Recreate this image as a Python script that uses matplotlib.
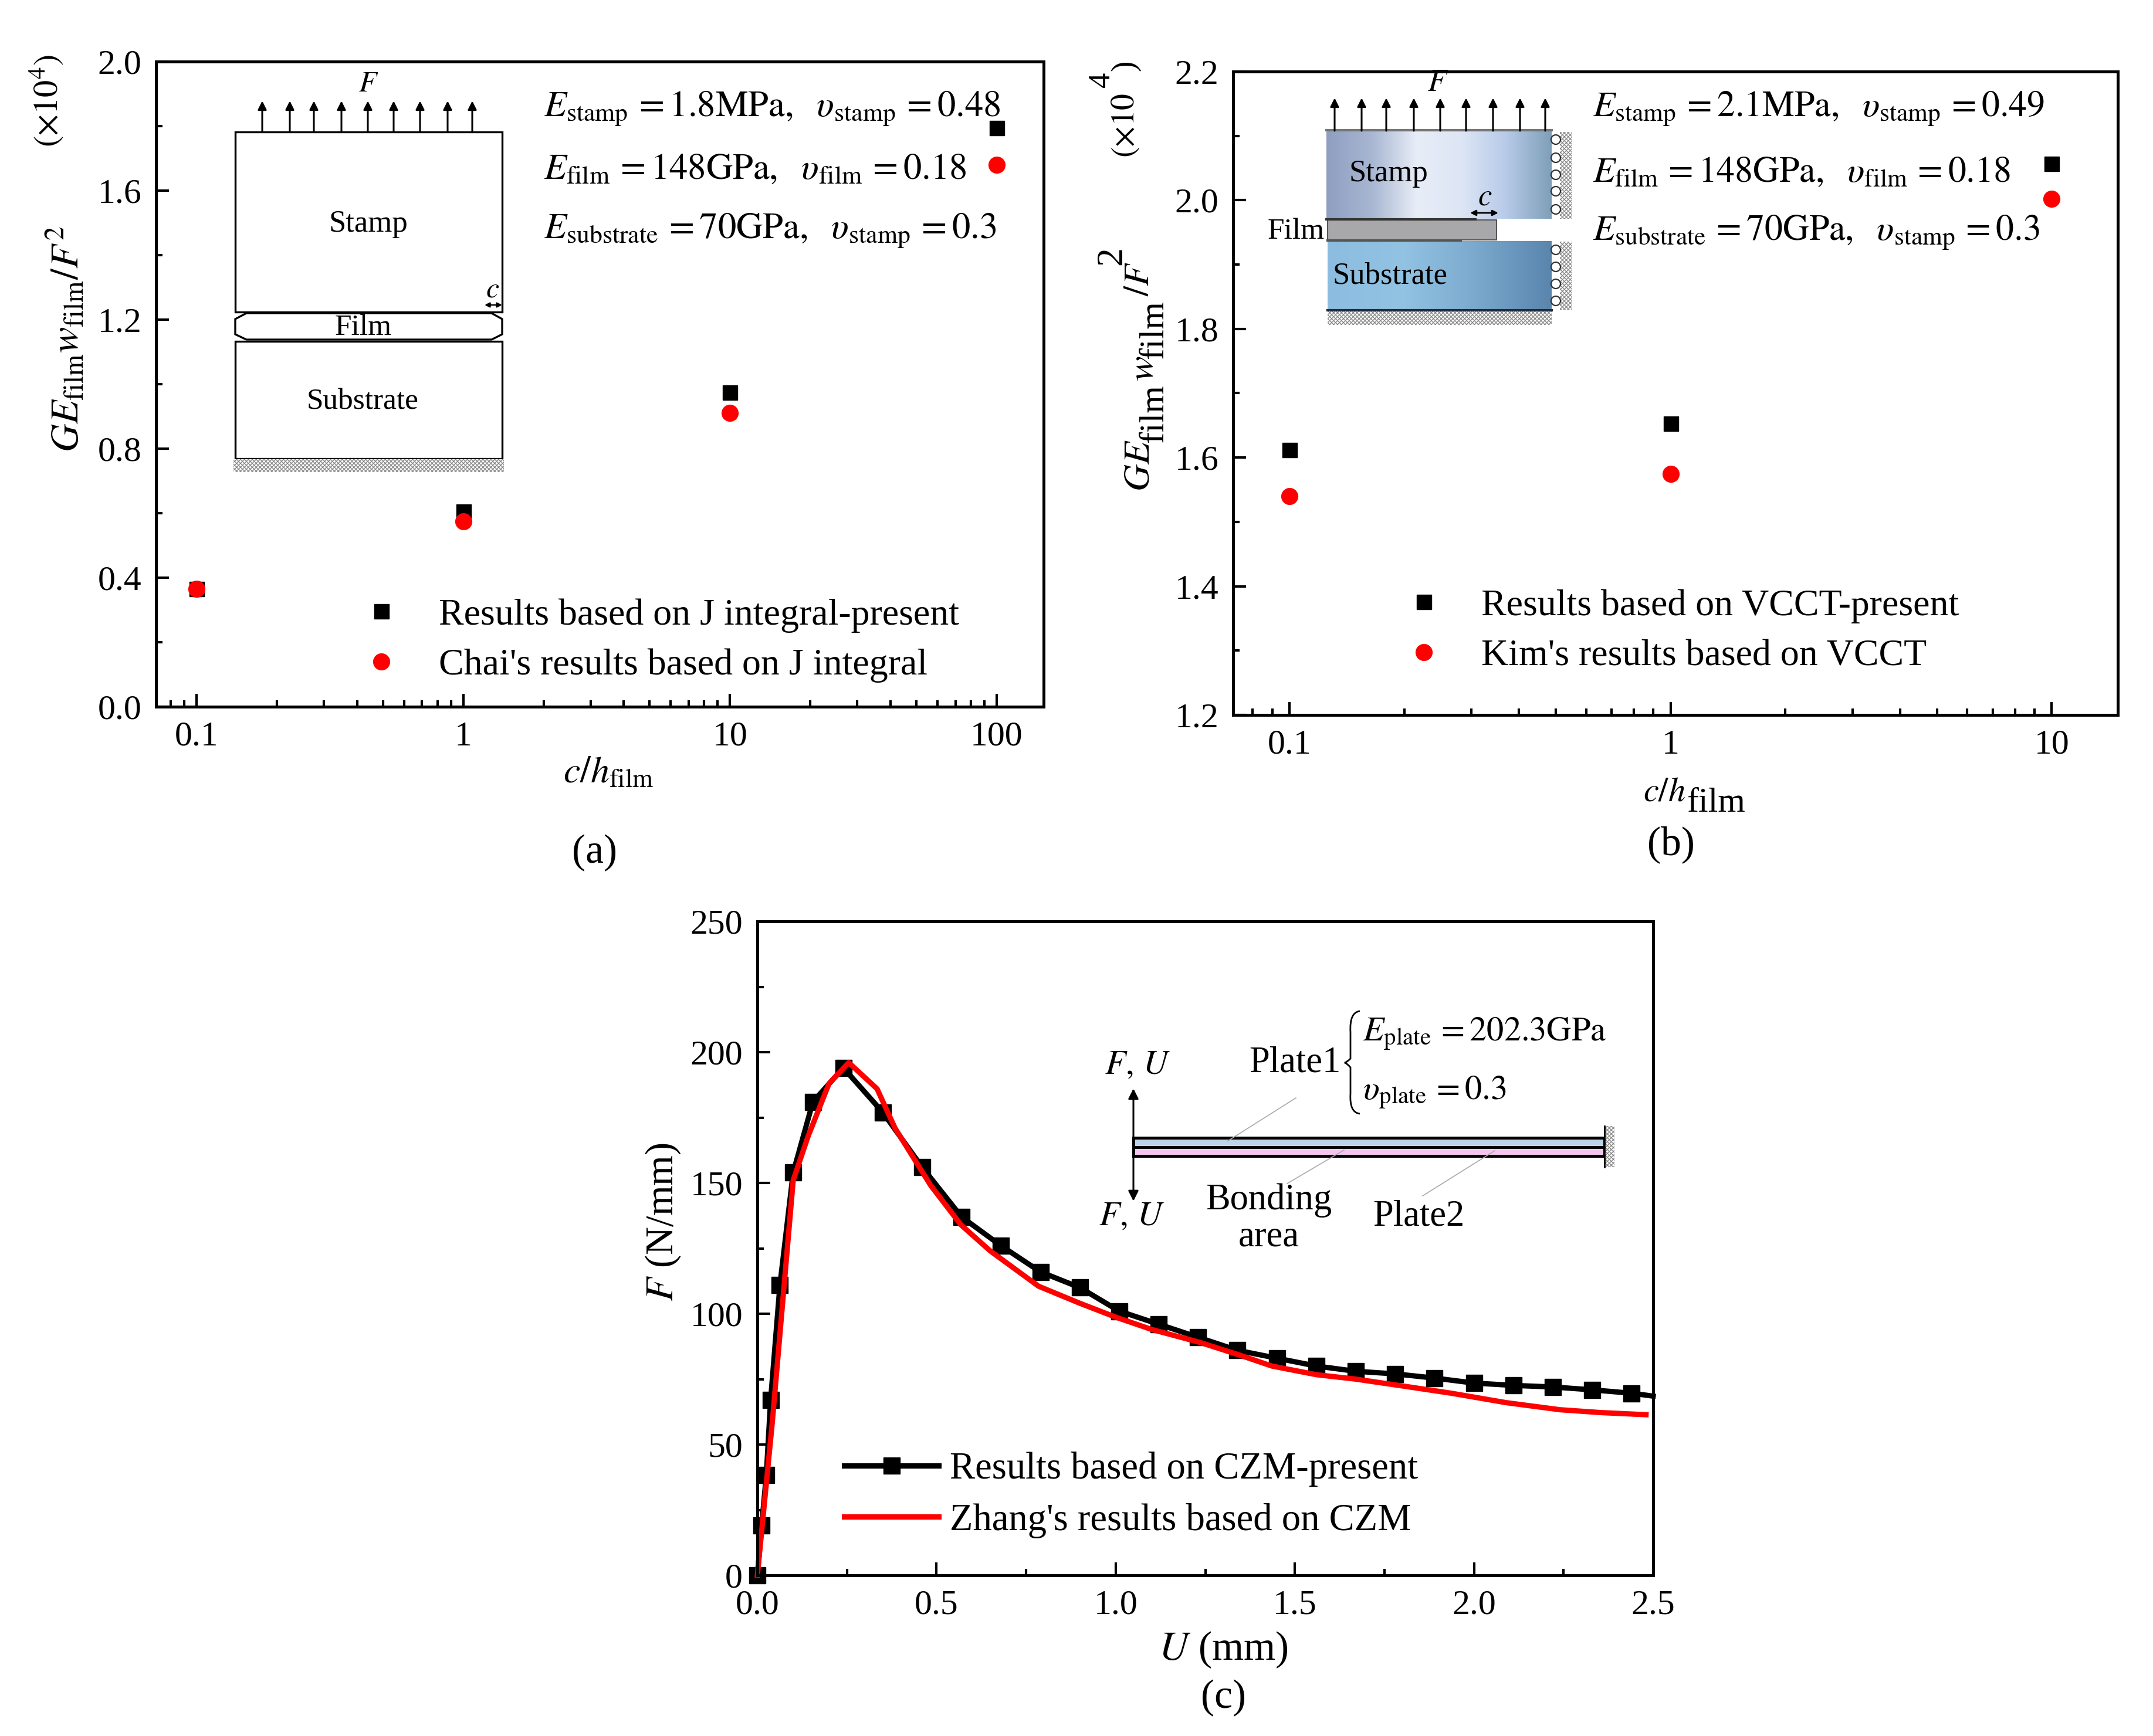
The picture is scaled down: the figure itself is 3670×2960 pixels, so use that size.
import numpy as np
import matplotlib
matplotlib.use("Agg")
import matplotlib.pyplot as plt
from matplotlib.colors import LinearSegmentedColormap
from matplotlib.patches import Rectangle, Polygon, Circle, PathPatch
from matplotlib.path import Path
from matplotlib.ticker import FixedLocator, FixedFormatter, NullFormatter

plt.rcParams["font.family"] = ["Liberation Serif", "DejaVu Serif"]
plt.rcParams["mathtext.fontset"] = "stix"
plt.rcParams["hatch.linewidth"] = 1.0

W, H = 3670, 2960

# panel a
a_x = [0.1, 1, 10, 100]
a_present = [0.365, 0.605, 0.975, 1.795]
a_chai = [0.365, 0.575, 0.91, 1.68]
a_params = [
    r"$E_{\mathrm{stamp}}\,=1.8\mathrm{MPa},\ \ \upsilon_{\mathrm{stamp}}\,=0.48$",
    r"$E_{\mathrm{film}}\,=148\mathrm{GPa},\ \ \upsilon_{\mathrm{film}}\,=0.18$",
    r"$E_{\mathrm{substrate}}\,=70\mathrm{GPa},\ \ \upsilon_{\mathrm{stamp}}\,=0.3$",
]

# panel b
b_x = [0.1, 1, 10]
b_present = [1.612, 1.653, 2.057]
b_kim = [1.54, 1.575, 2.002]
b_params = [
    r"$E_{\mathrm{stamp}}\,=2.1\mathrm{MPa},\ \ \upsilon_{\mathrm{stamp}}\,=0.49$",
    r"$E_{\mathrm{film}}\,=148\mathrm{GPa},\ \ \upsilon_{\mathrm{film}}\,=0.18$",
    r"$E_{\mathrm{substrate}}\,=70\mathrm{GPa},\ \ \upsilon_{\mathrm{stamp}}\,=0.3$",
]

# panel c
c_u = [0, 0.012, 0.025, 0.037, 0.063, 0.1, 0.155, 0.24, 0.35, 0.46, 0.57, 0.68, 0.79, 0.9, 1.01,
       1.12, 1.23, 1.34, 1.45, 1.56, 1.67, 1.78, 1.89, 2.0, 2.11, 2.22, 2.33, 2.44, 2.5]
c_f = [0, 19, 38.4, 67, 111, 154, 181, 194, 177, 156, 137, 126, 116, 110, 101,
       96, 91, 86, 83, 80, 78, 77, 75.4, 73.5, 72.6, 72, 70.9, 69.6, 68.5]
zhang_u = [0, 0.042, 0.1, 0.142, 0.2, 0.255, 0.334, 0.384, 0.484, 0.568, 0.65, 0.785, 0.9, 1.0, 1.1,
           1.236, 1.35, 1.436, 1.56, 1.67, 1.8, 1.937, 2.09, 2.24, 2.355, 2.48]
zhang_f = [0, 59, 151, 168, 188, 196, 186, 171, 149, 134, 124, 110.5, 104, 98.7, 94,
           89, 84, 80, 76.7, 75, 72.4, 69.6, 66, 63.3, 62.2, 61.4]


def px_axes(fig, left, right, top, bottom):
    return fig.add_axes([left/W, 1-bottom/H, (right-left)/W, (bottom-top)/H])


def style_axes(ax):
    for s in ax.spines.values():
        s.set_linewidth(3.6)
    ax.tick_params(which="major", direction="in", length=16, width=3.0, labelsize=43, pad=18)
    ax.tick_params(which="minor", direction="in", length=8, width=3.0)
    ax.tick_params(top=False, right=False, which="both")


def add_legend(ax, handles, labels, x, y, size, spacing):
    ax.legend(handles, labels, loc="center left", bbox_to_anchor=(x/W, 1-y/H),
              bbox_transform=ax.figure.transFigure, frameon=False, fontsize=size,
              borderpad=0, borderaxespad=0, labelspacing=spacing, handletextpad=0.28,
              handlelength=2.5, numpoints=1)


fig = plt.figure(figsize=(W/100, H/100), dpi=100)

# (a)
ax = px_axes(fig, 266, 1779, 105, 1205)
p1, = ax.plot(a_x, a_present, "s", color="black", ms=18, ls="none")
p2, = ax.plot(a_x, a_chai, "o", color="red", ms=20, ls="none")
ax.set_xscale("log")
ax.set_xlim(0.0705, 150)
ax.set_ylim(0, 2.0)
ax.xaxis.set_major_locator(FixedLocator(a_x))
ax.xaxis.set_major_formatter(FixedFormatter(["0.1", "1", "10", "100"]))
ax.xaxis.set_minor_formatter(NullFormatter())
ax.set_yticks(np.arange(0, 2.01, 0.4))
ax.set_yticklabels(["0.0", "0.4", "0.8", "1.2", "1.6", "2.0"])
ax.set_yticks(np.arange(0, 2.01, 0.2), minor=True)
style_axes(ax)
add_legend(ax, [p1, p2], ["Results based on J integral-present", "Chai's results based on J integral"],
           570, 1092, 46, 0.42)

# (b)
ax = px_axes(fig, 2102, 3610, 122, 1219)
p1, = ax.plot(b_x, b_present, "s", color="black", ms=18, ls="none")
p2, = ax.plot(b_x, b_kim, "o", color="red", ms=20, ls="none")
ax.set_xscale("log")
ax.set_xlim(0.0711, 14.9)
ax.set_ylim(1.2, 2.2)
ax.xaxis.set_major_locator(FixedLocator(b_x))
ax.xaxis.set_major_formatter(FixedFormatter(["0.1", "1", "10"]))
ax.xaxis.set_minor_formatter(NullFormatter())
ax.set_yticks(np.arange(1.2, 2.21, 0.2))
ax.set_yticks(np.arange(1.2, 2.21, 0.1), minor=True)
style_axes(ax)
add_legend(ax, [p1, p2], ["Results based on VCCT-present", "Kim's results based on VCCT"],
           2347, 1076, 46, 0.42)

# (c)
ax = px_axes(fig, 1291, 2818, 1571, 2686)
p1, = ax.plot(c_u, c_f, "-s", color="black", lw=6.5, ms=20, markevery=list(range(len(c_u)-1)), clip_on=False)
p2, = ax.plot(zhang_u, zhang_f, "-", color="red", lw=6.5, clip_on=False)
ax.set_xlim(0, 2.5)
ax.set_ylim(0, 250)
ax.set_xticks(np.arange(0, 2.51, 0.5))
ax.set_xticks(np.arange(0, 2.51, 0.25), minor=True)
ax.set_yticks(np.arange(0, 251, 50))
ax.set_yticks(np.arange(0, 251, 25), minor=True)
style_axes(ax)
add_legend(ax, [p1, p2], ["Results based on CZM-present", "Zhang's results based on CZM"],
           1439, 2549, 46.5, 0.42)

# everything below is placed in picture pixels
ov = fig.add_axes([0, 0, 1, 1], zorder=5)
ov.set_xlim(0, W)
ov.set_ylim(H, 0)
ov.axis("off")
ov.patch.set_alpha(0)


def txt(x, y, s, size, **kw):
    kw.setdefault("ha", "center")
    kw.setdefault("va", "center")
    ov.text(x, y, s, fontsize=size, **kw)


def arrow(x0, y0, x1, y1, lw=2.2, style="-|>", scale=22):
    ov.annotate("", xy=(x1, y1), xytext=(x0, y0),
                arrowprops=dict(arrowstyle=style, color="black", lw=lw, shrinkA=0, shrinkB=0, mutation_scale=scale))


def ground(x0, y0, x1, y1):
    ov.add_patch(Rectangle((x0, y0), x1-x0, y1-y0, facecolor="white", edgecolor="#8a8a8a", lw=0, hatch="xxxxx"))


def gradient(x0, y0, x1, y1, colors):
    cmap = LinearSegmentedColormap.from_list("g", colors)
    ov.imshow(np.linspace(0, 1, 256)[None, :], extent=(x0, x1, y1, y0), cmap=cmap, aspect="auto", zorder=1)


# axis labels
txt(113, 578, r"$GE_{\mathrm{film}}w_{\mathrm{film}}/F^{2}$", 48, rotation=90)
txt(80, 172, r"$(\times10^{4})$", 42, rotation=90)
txt(1037, 1320, r"$c/h_{\mathrm{film}}$", 46)
# subscripts in (b) are nearly full size, so the label is set piece by piece
txt(1943, 794, r"$GE$", 46, rotation=90)
txt(1968, 705, "film", 43, rotation=90)
txt(1950, 628, r"$w$", 46, rotation=90)
txt(1968, 562, "film", 43, rotation=90)
txt(1943, 476, r"$/F$", 44, rotation=90)
txt(1896, 436, "2", 46, rotation=90)
txt(1918, 214, r"$(\times10$", 40, rotation=90)
txt(1878, 136, "4", 38, rotation=90)
txt(1918, 112, ")", 40, rotation=90)
txt(2837, 1352, r"$c/h$", 42)
txt(2925, 1370, "film", 43)
txt(1130, 2083, r"$F$ (N/mm)", 48, rotation=90)
txt(2085, 2813, r"$U$ (mm)", 50)
txt(1013, 1454, "(a)", 50)
txt(2848, 1440, "(b)", 50)
txt(2085, 2895, "(c)", 50)

# parameters
for y, s in zip([185, 290, 393], a_params):
    txt(927, y, s, 45, ha="left")
for y, s in zip([185, 295, 396], b_params):
    txt(2715, y, s, 44.5, ha="left")

# inset a
for box in [(401, 225, 455, 307), (401, 582, 455, 200)]:
    ov.add_patch(Rectangle(box[:2], box[2], box[3], fc="white", ec="black", lw=2.4))
ov.add_patch(Polygon([(420, 534), (838, 534), (856, 544), (856, 570), (838, 579), (420, 579), (401, 570), (401, 544)],
                     closed=True, fc="white", ec="black", lw=2.4))
ground(398, 783, 859, 805)
for x in [447, 494, 535, 582, 627, 671, 716, 763, 805]:
    arrow(x, 225, x, 172)
txt(628, 144, r"$F$", 36)
txt(628, 382, "Stamp", 38)
txt(619, 559, "Film", 37)
txt(618, 685, "Substrate", 37)
txt(840, 494, r"$c$", 36)
arrow(826, 520, 856, 520, lw=1.8, style="<|-|>", scale=12)

# inset b
gradient(2261, 223, 2645, 373, ["#8f9fc0", "#a8b6d2", "#e8edf7", "#dde6f5", "#b7cae8", "#7f9fb8"])
gradient(2263, 411, 2645, 529, ["#8cbcdf", "#93c3e3", "#7aa9cd", "#5a85ad"])
ov.add_patch(Rectangle((2263, 375), 288, 34, fc="#a8a8aa", ec="#555555", lw=1.5, zorder=2))
ov.plot([2261, 2515], [374, 374], color="#333333", lw=3, zorder=3)
ov.plot([2263, 2490], [410, 410], color="#555555", lw=3, zorder=3)
ov.plot([2263, 2645], [529, 529], color="#1e2d40", lw=3, zorder=3)
ov.plot([2261, 2645], [222, 222], color="#777777", lw=3, zorder=3)
ground(2263, 531, 2645, 554)
ground(2659, 225, 2679, 373)
ground(2659, 412, 2679, 529)
for y in [238, 269, 298, 326, 357, 426, 455, 484, 513]:
    ov.add_patch(Circle((2652, y), 8, fc="white", ec="#333333", lw=1.6, zorder=3))
for x in [2275, 2321, 2363, 2410, 2455, 2499, 2545, 2591, 2634]:
    arrow(x, 223, x, 167)
txt(2451, 142, r"$F$", 38)
txt(2367, 296, "Stamp", 38)
txt(2369, 470, "Substrate", 38)
txt(2209, 395, "Film", 37)
txt(2531, 337, r"$c$", 38)
arrow(2506, 363, 2554, 363, lw=2, style="<|-|>", scale=14)

# inset c
ov.add_patch(Rectangle((1932, 1940), 803, 16, fc="#bcd3e8", ec="black", lw=3.6))
ov.add_patch(Rectangle((1932, 1956), 803, 15, fc="#f4c6ee", ec="black", lw=3.6))
ground(2735, 1920, 2752, 1990)
ov.plot([2735, 2735], [1920, 1990], color="black", lw=2)
arrow(1932, 1948, 1932, 1856, scale=26)
arrow(1932, 1963, 1932, 2048, scale=26)
for x0, y0, x1, y1 in [(2209, 1872, 2092, 1946), (2291, 1961, 2194, 2018), (2548, 1962, 2425, 2039)]:
    ov.plot([x0, x1], [y0, y1], color="#aaaaaa", lw=1.2)
txt(1939, 1817, r"$F,\,U$", 42)
txt(1929, 2075, r"$F,\,U$", 42)
txt(2207, 1812, "Plate1", 45)
txt(2163, 2078, "Bonding\narea", 45, linespacing=1.12)
txt(2418, 2075, "Plate2", 45)
txt(2323, 1763, r"$E_{\mathrm{plate}}\,=202.3\mathrm{GPa}$", 42, ha="left")
txt(2323, 1863, r"$\upsilon_{\mathrm{plate}}\,=0.3$", 42, ha="left")
brace = Path([(2318, 1724), (2300, 1726), (2302, 1760), (2302, 1785), (2302, 1805), (2296, 1811), (2292, 1812),
              (2296, 1813), (2302, 1820), (2302, 1840), (2302, 1865), (2300, 1897), (2318, 1899)],
             [Path.MOVETO] + [Path.CURVE3, Path.CURVE3]*6)
ov.add_patch(PathPatch(brace, fc="none", ec="black", lw=2))

ov.set_xlim(0, W)
ov.set_ylim(H, 0)
fig.savefig("out.png", dpi=100)
